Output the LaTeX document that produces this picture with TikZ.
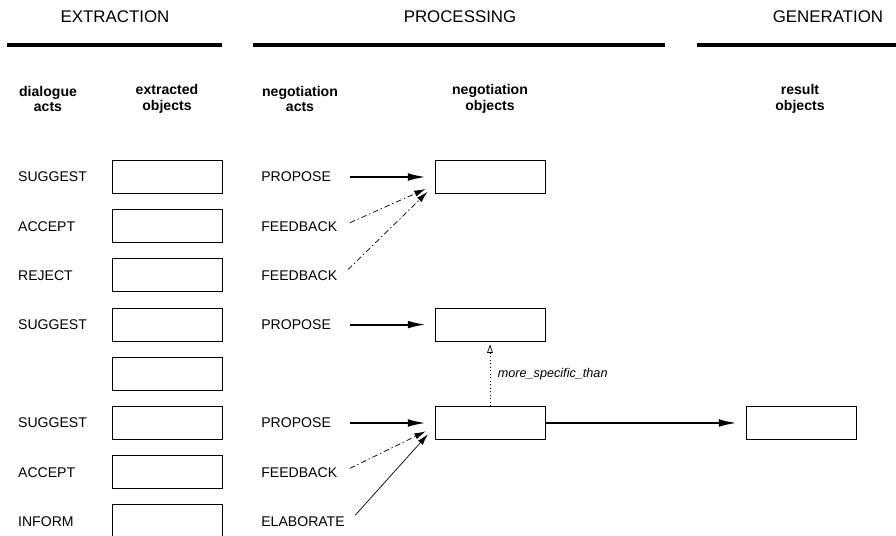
\documentclass[tikz,border=0pt]{standalone}
\usepackage{fontspec}
\setmainfont{Liberation Sans}
\usetikzlibrary{arrows.meta}

\tikzset{
  phase/.style={font=\fontsize{12}{14}\selectfont},
  colhead/.style={align=center,font=\bfseries\fontsize{10}{11}\selectfont},
  act/.style={anchor=west,font=\fontsize{10}{12}\selectfont},
  obj/.style={rectangle,draw,line width=0.7pt,minimum width=2.75cm,minimum height=0.825cm},
  bar/.style={line width=2.8pt},
  strong/.style={-{Latex[length=13pt,width=5.5pt]},line width=1.5pt,shorten <=10pt,shorten >=6pt},
  weak/.style={-{Latex[length=8pt,width=4.5pt]},line width=0.5pt,dash pattern=on 4pt off 2pt on 1pt off 2pt,shorten <=6pt,shorten >=7pt},
  plain/.style={-{Latex[length=8pt,width=4.5pt]},line width=0.5pt,shorten <=6pt,shorten >=7pt},
}

\begin{document}
\begin{tikzpicture}
\useasboundingbox (0,0) rectangle (22.4,13.4);

% phases
\node (EX) at (2.875,12.975) [phase] {EXTRACTION};
\node (PR) at (11.5,12.975) [phase] {PROCESSING};
\node (GE) at (20.7,12.975) [phase] {GENERATION};
\draw [bar] (0.175,12.275) -- (5.55,12.275);
\draw [bar] (6.325,12.275) -- (16.625,12.275);
\draw [bar] (17.425,12.275) -- (22.4,12.275);

% column heads
\node (HD) at (1.2,10.925) [colhead] {dialogue\\acts};
\node (HE) at (4.175,10.925) [colhead] {extracted\\objects};
\node (HA) at (7.5,10.925) [colhead] {negotiation\\acts};
\node (HN) at (12.25,10.925) [colhead] {negotiation\\objects};
\node (HR) at (20.0,10.925) [colhead] {result\\objects};

% dialogue acts
\node (D1) at (0.33,8.975) [act] {SUGGEST};
\node (D2) at (0.33,7.745) [act] {ACCEPT};
\node (D3) at (0.33,6.515) [act] {REJECT};
\node (D4) at (0.33,5.285) [act] {SUGGEST};
\node (D6) at (0.33,2.825) [act] {SUGGEST};
\node (D7) at (0.33,1.595) [act] {ACCEPT};
\node (D8) at (0.33,0.365) [act] {INFORM};

% extracted objects
\node (E1) at (4.175,8.975) [obj] {};
\node (E2) at (4.175,7.745) [obj] {};
\node (E3) at (4.175,6.515) [obj] {};
\node (E4) at (4.175,5.285) [obj] {};
\node (E5) at (4.175,4.055) [obj] {};
\node (E6) at (4.175,2.825) [obj] {};
\node (E7) at (4.175,1.595) [obj] {};
\node (E8) at (4.175,0.365) [obj] {};

% negotiation acts
\node (A1) at (6.41,8.975) [act] {PROPOSE};
\node (A2) at (6.41,7.745) [act] {FEEDBACK};
\node (A3) at (6.41,6.515) [act] {FEEDBACK};
\node (A4) at (6.41,5.285) [act] {PROPOSE};
\node (A6) at (6.41,2.825) [act] {PROPOSE};
\node (A7) at (6.41,1.595) [act] {FEEDBACK};
\node (A8) at (6.41,0.365) [act] {ELABORATE};

% negotiation and result objects
\node (N1) at (12.25,8.975) [obj] {};
\node (N4) at (12.25,5.285) [obj] {};
\node (N6) at (12.25,2.825) [obj] {};
\node (R6) at (20.025,2.825) [obj] {};

\draw [strong] (A1.east) -- (N1);
\draw [weak] (A2.east) -- ([yshift=-0.2cm]N1.west);
\draw [weak] (A3.east) -- ([yshift=-0.2cm]N1.west);
\draw [strong] (A4.east) -- (N4);
\draw [strong] (A6.east) -- (N6);
\draw [weak] (A7.east) -- ([yshift=-0.1cm]N6.west);
\draw [plain] (A8.east) -- ([yshift=-0.1cm]N6.west);

\draw [dotted,line width=0.5pt,-{Triangle[open,length=6pt,width=4pt]},shorten >=2pt] (N6) -- (N4)
  node [midway,right=2pt,font=\itshape\fontsize{9}{11}\selectfont] {more\_specific\_than};
\draw [strong,shorten <=0pt] (N6) -- (R6);
\end{tikzpicture}
\end{document}
